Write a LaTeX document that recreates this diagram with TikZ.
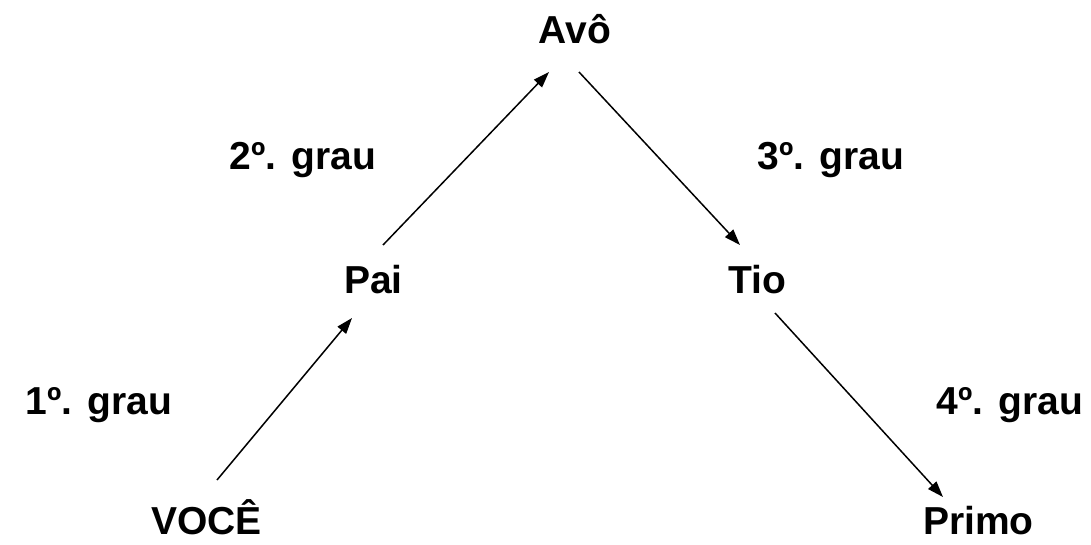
\documentclass[tikz,border=0pt]{standalone}
\usepackage{fontspec}
\setmainfont{Liberation Sans}
\usetikzlibrary{arrows.meta}
\begin{document}
\begin{tikzpicture}[x=1pt,y=-1pt,
  lbl/.style={font=\fontsize{39}{46}\selectfont\bfseries, anchor=base, inner sep=0pt},
  arr/.style={line width=1.5pt, -{Triangle[length=16pt,width=11pt]}}]
\useasboundingbox (0,0) rectangle (1091,544);
\node[lbl] (avo) at (575,43) {Avô};
\node[lbl] (pai) at (373.5,293) {Pai};
\node[lbl] (tio) at (757,293) {Tio};
\node[lbl] (voce) at (206.5,534) {VOCÊ};
\node[lbl] (primo) at (978.5,534) {Primo};
\node[lbl] (g1) at (99,414) {1º.\hspace{15pt}grau};
\node[lbl] (g2) at (303,169) {2º.\hspace{15pt}grau};
\node[lbl] (g3) at (831,169) {3º.\hspace{15pt}grau};
\node[lbl] (g4) at (1010,414) {4º.\hspace{15pt}grau};
\coordinate (a1s) at (217,480);
\coordinate (a1e) at (352,318);
\coordinate (a2s) at (383,245);
\coordinate (a2e) at (549,72);
\coordinate (a3s) at (579,72);
\coordinate (a3e) at (740,245);
\coordinate (a4s) at (775,313);
\coordinate (a4e) at (943,497);
\draw[arr] (a1s) -- (a1e);
\draw[arr] (a2s) -- (a2e);
\draw[arr] (a3s) -- (a3e);
\draw[arr] (a4s) -- (a4e);
\end{tikzpicture}
\end{document}
